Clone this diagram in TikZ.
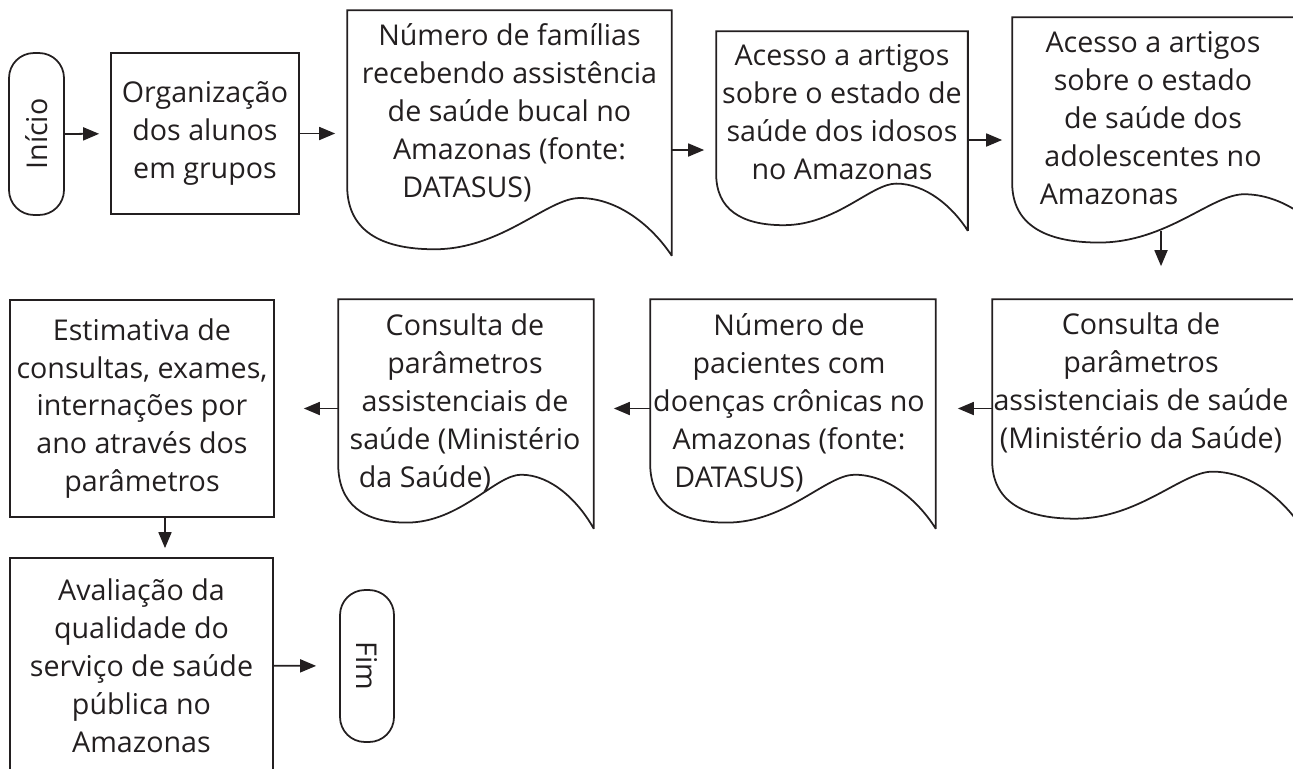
\documentclass[tikz,border=0pt]{standalone}
\usepackage{fontspec}
\setmainfont{Open Sans}
\usetikzlibrary{arrows.meta,calc}

\definecolor{ink}{RGB}{35,31,32}

\tikzset{
	box/.style={draw, align=center, inner sep=0pt},
	term/.style={draw, rounded corners=0.5cm, inner sep=0pt},
	docu/.style={inner sep=0pt},
	txt/.style={align=center, inner sep=0pt},
	arr/.style={-{Triangle[length=0.32cm,width=0.26cm]}},
}

% contorno de documento: #1 = no, #2 = largura, #3 = altura (px)
\newcommand\docwave[3]{%
	\draw (#1.south east) -- (#1.north east) -- (#1.north west)
		-- ++(0,{0.72*#3})
		.. controls +(0,{0.18*#3}) and +({-0.17*#2},0) .. ++({0.27*#2},{0.26*#3})
		.. controls +({0.21*#2},0) and +({-0.10*#2},0) .. ++({0.45*#2},{-0.21*#3})
		.. controls +({0.12*#2},0) and +({-0.06*#2},{-0.12*#3}) .. (#1.south east);
}

\begin{document}
\begin{tikzpicture}[x=0.02cm, y=-0.02cm, color=ink, line width=1pt,
	font=\fontsize{16.3}{21.6}\selectfont]
\clip (0,0) rectangle (1293,768);

% primeira linha
\node[term, rotate=90, minimum width=3.24cm, minimum height=1.1cm] (ini) at (36.5,134) {Início};
\node[box, minimum width=3.76cm, minimum height=3.22cm] (org) at (205,133.5) {Organização\\dos alunos\\em grupos};

\node[docu, minimum width=6.46cm, minimum height=4.88cm] (fam) at (509.5,133) {};
\node[txt] (fam-txt) at (509.5,113) {Número de famílias\\recebendo assistência\\de saúde bucal no\\Amazonas (fonte:\\DATASUS)\kern1.7cm};
\docwave{fam}{323}{244}

\node[docu, minimum width=5cm, minimum height=3.96cm] (ido) at (842,131) {};
\node[txt] (ido-txt) at (842,112) {Acesso a artigos\\sobre o estado de\\saúde dos idosos\\no Amazonas};
\docwave{ido}{250}{198}

\node[docu, minimum width=6.44cm, minimum height=4.6cm] (ado) at (1174,133) {};
\node[txt] (ado-txt) at (1153,118) {Acesso a artigos\\sobre o estado\\de saúde dos\\adolescentes no\\Amazonas\kern1.76cm};
\docwave{ado}{322}{230}

% segunda linha
\node[box, minimum width=5.28cm, minimum height=4.34cm] (est) at (142,408.5) {Estimativa de\\consultas, exames,\\internações por\\ano através dos\\parâmetros};

\node[docu, minimum width=5.08cm, minimum height=4.56cm] (par1) at (466,414) {};
\node[txt] (par1-txt) at (465,403) {Consulta de\\parâmetros\\assistenciais de\\saúde (Ministério\\da Saúde)\kern1.6cm};
\docwave{par1}{254}{228}

\node[docu, minimum width=5.68cm, minimum height=4.56cm] (cro) at (793,414) {};
\node[txt] (cro-txt) at (789,403) {Número de\\pacientes com\\doenças crônicas no\\Amazonas (fonte:\\DATASUS)\kern2cm};
\docwave{cro}{284}{228}

\node[docu, minimum width=6.12cm, minimum height=4.48cm] (par2) at (1146,412) {};
\node[txt] (par2-txt) at (1141,382.5) {Consulta de\\parâmetros\\assistenciais de saúde\\(Ministério da Saúde)};
\docwave{par2}{306}{224}

% terceira linha
\node[box, minimum width=5.26cm, minimum height=4.3cm] (aval) at (141.5,665.5) {Avaliação da\\qualidade do\\serviço de saúde\\pública no\\Amazonas};
\node[term, rotate=-90, minimum width=3.04cm, minimum height=1.08cm] (fim) at (367,666) {Fim};

\draw[arr, shorten >=0.22cm] (ini) -- (org);
\draw[arr, shorten >=0.24cm] (org) -- (org -| fam.west);
\draw[arr, shorten >=0.24cm] (fam.east |- 0,150) -- (ido.west |- 0,150);
\draw[arr, shorten >=0.2cm] (ido.east |- 0,140) -- (ado.west |- 0,140);
\draw[arr, shorten >=0.66cm] ([xshift=-0.26cm, yshift=0.35cm]ado.south) -- ([xshift=-0.26cm]ado.south |- par2.north);
\draw[arr, shorten >=0.44cm] (par2.west |- est) -- (cro.east |- est);
\draw[arr, shorten >=0.4cm] (cro.west |- est) -- (par1.east |- est);
\draw[arr, shorten >=0.58cm] (par1.west |- est) -- (est);
\draw[arr, shorten >=0.18cm] ([xshift=0.46cm]est.south) -- ([xshift=0.46cm]est.south |- aval.north);
\draw[arr, shorten >=0.46cm] (aval) -- (fim);

\end{tikzpicture}
\end{document}
